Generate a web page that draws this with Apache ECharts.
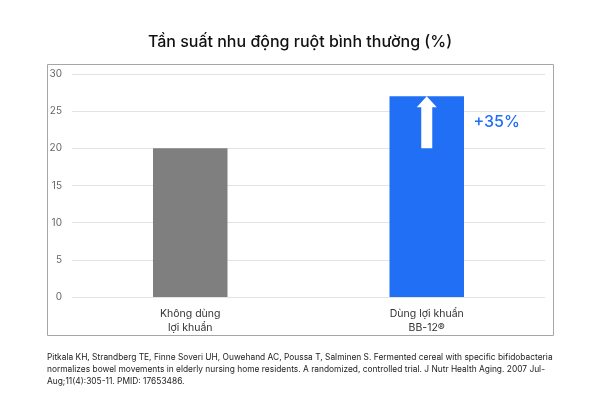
<!DOCTYPE html>
<html>
<head>
<meta charset="utf-8">
<script src="https://cdn.jsdelivr.net/npm/echarts@6/dist/echarts.min.js"></script>
<style>
  html, body { margin: 0; padding: 0; background: #fff; }
  #chart { width: 600px; height: 400px; }
</style>
</head>
<body>
<div id="chart"></div>
<script>
// du lieu
var categories = ['Không dùng\nlợi khuẩn', 'Dùng lợi khuẩn\nBB-12®'];
var values = [20, 27];
var barColors = ['#7f7f7f', '#206ff5'];
var increaseLabel = '+35%';
var yTicks = [0, 30, 5];   // min, max, interval
var refLines = [
    'Pitkala KH, Strandberg TE, Finne Soveri UH, Ouwehand AC, Poussa T, Salminen S. Fermented cereal with specific bifidobacteria',
    'normalizes bowel movements in elderly nursing home residents. A randomized, controlled trial. J Nutr Health Aging. 2007 Jul-',
    'Aug;11(4):305-11. PMID: 17653486.'
];

window.onload = function(){
    drawChart();
}

function drawChart(){
    var myChart = echarts.init(document.getElementById('chart'));
    var font = 'Inter, "Noto Sans", sans-serif';

    var option = {
        backgroundColor: '#fff',
        title: {
            text: 'Tần suất nhu động ruột bình thường (%)',
            left: 'center',
            top: 29,
            textStyle: { fontFamily: font, fontSize: 16, fontWeight: 500, color: '#111' }
        },
        grid: { left: 72, right: 55, top: 74, bottom: 103 },
        xAxis: {
            type: 'category',
            data: categories,
            axisLine: { show: false },
            axisTick: { show: false },
            axisLabel: { fontFamily: font, fontSize: 10.5, color: '#333', lineHeight: 14, margin: 10 }
        },
        yAxis: {
            type: 'value',
            min: yTicks[0],
            max: yTicks[1],
            interval: yTicks[2],
            axisLabel: { fontFamily: font, fontSize: 10, color: '#666', margin: 10 },
            splitLine: { lineStyle: { color: '#e3e3e3', width: 1 } }
        },
        series: [
            {
                type: 'bar',
                barWidth: '31.5%',
                data: values.map(function(v, i){
                    return {
                        value: v,
                        itemStyle: { color: barColors[i] },
                        label: i === 1 ? {
                            show: true,
                            formatter: increaseLabel,
                            position: [84, 26],
                            verticalAlign: 'middle',
                            align: 'left',
                            fontFamily: font,
                            fontSize: 16,
                            fontWeight: 500,
                            color: barColors[1]
                        } : { show: false }
                    };
                }),
                z: 2
            },
            {
                // mui ten tu gia tri nhom 1 len gia tri nhom 2
                type: 'custom',
                z: 5,
                data: [[1, values[0], values[1]]],
                renderItem: function(params, api){
                    var base = api.coord([api.value(0), api.value(1)]);
                    var tip = api.coord([api.value(0), api.value(2)]);
                    var headH = 11, headW = 10, shaftW = 5.5;
                    var x = tip[0];
                    return {
                        type: 'polygon',
                        shape: {
                            points: [
                                [x, tip[1]],
                                [x + headW, tip[1] + headH],
                                [x + shaftW, tip[1] + headH],
                                [x + shaftW, base[1]],
                                [x - shaftW, base[1]],
                                [x - shaftW, tip[1] + headH],
                                [x - headW, tip[1] + headH]
                            ]
                        },
                        style: { fill: '#fff' }
                    };
                }
            }
        ],
        graphic: [
            {
                type: 'rect',
                shape: { x: 47.5, y: 64.5, width: 506, height: 271 },
                style: { fill: 'none', stroke: '#a6a6a6', lineWidth: 1 },
                silent: true
            },
            {
                type: 'text',
                left: 47,
                top: 351,
                style: {
                    text: refLines.join('\n'),
                    fontFamily: font,
                    fontSize: 8.4,
                    lineHeight: 12,
                    fill: '#222'
                }
            }
        ]
    };

    myChart.setOption(option);
}
</script>
</body>
</html>
